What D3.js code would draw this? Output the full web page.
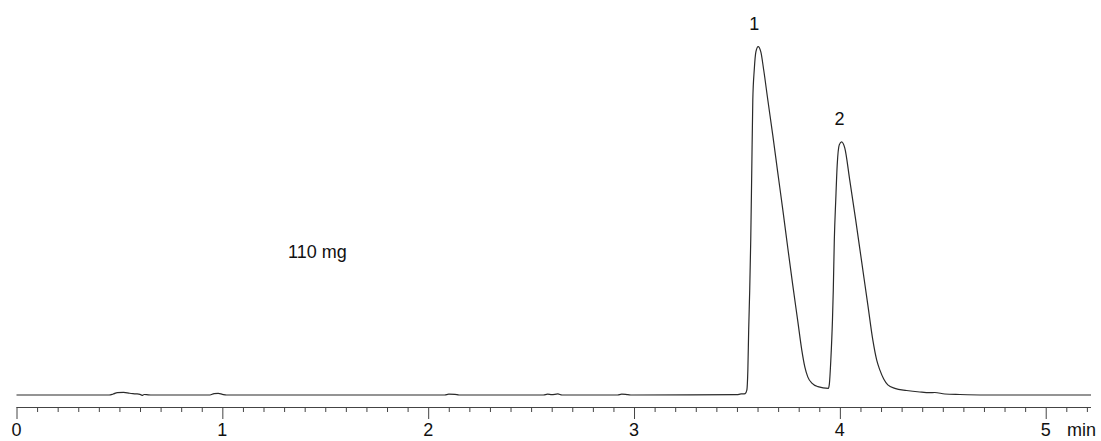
<!DOCTYPE html>
<html>
<head>
<meta charset="utf-8">
<script src="https://cdn.jsdelivr.net/npm/d3@7"></script>
<style>
  html, body { margin: 0; padding: 0; background: #fff; }
  svg { display: block; }
  text { font-family: "Liberation Sans", Arial, sans-serif; fill: #111; }
</style>
</head>
<body>
<div id="chart"></div>
<script>
// Retention time (min)
const times = [
  0, 0.45, 0.47, 0.49, 0.52, 0.55, 0.58, 0.60, 0.61, 0.62, 0.64, 0.66,
  0.94, 0.96, 0.98, 1.00, 1.02,
  2.08, 2.10, 2.13, 2.15,
  2.56, 2.58, 2.60, 2.63, 2.65,
  2.92, 2.94, 2.97, 2.99,
  3.50, 3.52, 3.53, 3.54,
  3.548, 3.553, 3.557, 3.562, 3.567, 3.572, 3.577, 3.584, 3.592, 3.603,
  3.616, 3.630, 3.650, 3.674, 3.698, 3.723, 3.747, 3.771, 3.796, 3.815,
  3.830, 3.844, 3.864, 3.893, 3.944,
  3.949, 3.956, 3.964, 3.968, 3.973, 3.980, 3.987, 3.997, 4.008,
  4.024, 4.048, 4.077, 4.106, 4.136, 4.160, 4.179, 4.194, 4.213,
  4.233, 4.267, 4.324, 4.388, 4.436, 4.461, 4.510, 4.582, 4.704, 5.22
];
// Detector signal (relative units)
const signal = [
  0, 0, 0.3, 0.7, 0.75, 0.5, 0.35, 0.2, -0.1, 0.15, 0.05, 0,
  0, 0.4, 0.45, 0.2, 0,
  0, 0.25, 0.2, 0,
  0, 0.25, 0.1, 0.3, 0,
  0, 0.25, 0.1, 0,
  0.1, 0.3, 0.3, 0.4,
  1.4, 7.2, 18.7, 30.1, 44.5, 64.6, 84.7, 93.3, 98.5, 100,
  98.5, 93.3, 84.7, 74.6, 64.0, 53.1, 42.2, 31.6, 21.0, 12.9,
  8.0, 5.2, 3.4, 2.4, 1.9,
  3.2, 10.0, 21.5, 30.1, 44.5, 56.0, 66.0, 71.8, 72.7,
  70.9, 61.7, 50.2, 38.2, 25.8, 15.8, 10.0, 7.2, 4.6,
  2.9, 1.9, 1.3, 0.86, 0.66, 0.72, 0.29, 0.14, 0, 0
];
const xTickLabels = ["0", "1", "2", "3", "4", "5"];
const peakLabels = ["1", "2"];
const peakTimes = [3.603, 4.008];
const peakHeights = [100, 72.7];
const sampleLabel = "110 mg";
const unitLabel = "min";

const W = 1101, H = 441;
const svg = d3.select("#chart").append("svg").attr("width", W).attr("height", H);

const x = d3.scaleLinear().domain([0, 5.22]).range([16.5, 1091]);
const y = d3.scaleLinear().domain([0, 100]).range([395, 46.7]);

const data = times.map((t, i) => ({ t, v: signal[i] }));

const line = d3.line().x(d => x(d.t)).y(d => y(d.v)).curve(d3.curveMonotoneX);

svg.append("path")
  .datum(data)
  .attr("d", line)
  .attr("fill", "none")
  .attr("stroke", "#2a2a2a")
  .attr("stroke-width", 1.2)
  .attr("stroke-linejoin", "round");

// Axis
const axisY = 407;
const axis = d3.axisBottom(x)
  .tickValues(d3.range(0, 53).map(i => i / 10))
  .tickSize(5)
  .tickFormat("");
const gAxis = svg.append("g").attr("transform", `translate(0,${axisY})`).call(axis);
gAxis.select(".domain").attr("stroke", "#444").attr("d", `M${x(0)},0.5V0.5H${x(5.22)}`);
gAxis.selectAll(".tick line").attr("stroke", "#444");
gAxis.selectAll(".tick").filter(d => Math.abs(d - Math.round(d)) < 1e-6)
  .select("line").attr("y2", 12);

// Major tick labels
svg.append("g").selectAll("text")
  .data(xTickLabels)
  .join("text")
  .attr("x", d => x(+d))
  .attr("y", 436)
  .attr("text-anchor", "middle")
  .attr("font-size", 18)
  .text(d => d);

svg.append("text")
  .attr("x", 1067)
  .attr("y", 436)
  .attr("font-size", 18)
  .text(unitLabel);

// Peak labels
svg.append("g").selectAll("text")
  .data(peakLabels)
  .join("text")
  .attr("x", (d, i) => x(peakTimes[i]) - 4 + i * 2)
  .attr("y", (d, i) => y(peakHeights[i]) - 17)
  .attr("text-anchor", "middle")
  .attr("font-size", 18)
  .text(d => d);

svg.append("text")
  .attr("x", 288)
  .attr("y", 258)
  .attr("font-size", 18)
  .text(sampleLabel);
</script>
</body>
</html>
